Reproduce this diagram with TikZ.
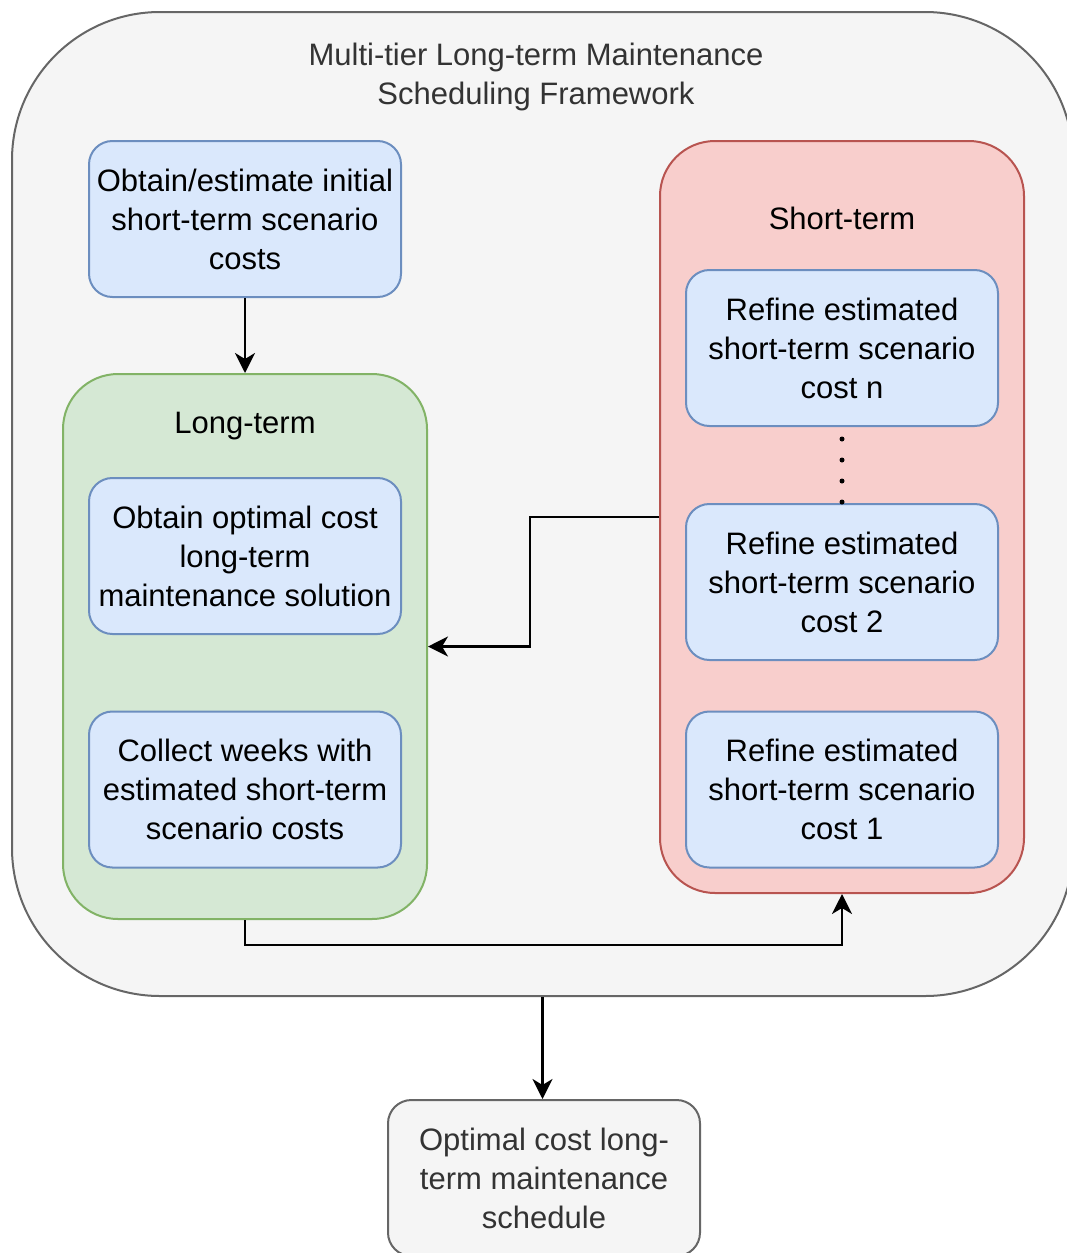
\documentclass[tikz,border=0pt]{standalone}
\usepackage{fontspec}
\setmainfont{Liberation Sans}
\usetikzlibrary{arrows.meta}
\definecolor{outerfill}{HTML}{F5F5F5}
\definecolor{outerdraw}{HTML}{666666}
\definecolor{bluefill}{HTML}{DAE8FC}
\definecolor{bluedraw}{HTML}{6C8EBF}
\definecolor{greenfill}{HTML}{D5E8D4}
\definecolor{greendraw}{HTML}{82B366}
\definecolor{redfill}{HTML}{F8CECC}
\definecolor{reddraw}{HTML}{B85450}
\definecolor{txtgray}{HTML}{333333}
\tikzset{
  txt/.style={font=\fontsize{15.5}{19.5}\selectfont, align=center, inner sep=0pt},
  bluebox/.style={txt, draw=bluedraw, fill=bluefill, line width=1pt, rounded corners=11.7pt,
    minimum width=156pt, minimum height=78pt, text=black},
  container/.style={line width=1pt, rounded corners=27.5pt, minimum width=182pt},
  flow/.style={line width=1.25pt, -{Stealth[length=10pt,width=10pt,inset=3pt]}},
}
\begin{document}
\begin{tikzpicture}[x=0.5pt,y=-0.5pt]
\useasboundingbox (0,0) rectangle (1066,1253);
% outer framework
\node[draw=outerdraw, fill=outerfill, line width=1pt, rounded corners=74pt,
  minimum width=530.5pt, minimum height=492pt] (outer) at (542.5,504) {};
\node[txt, text=txtgray] (title) at (536,77) {Multi-tier Long-term Maintenance\\Scheduling Framework};
% initial box
\node[bluebox] (init) at (245,219) {Obtain/estimate initial\\short-term scenario\\costs};
% long-term container
\node[container, draw=greendraw, fill=greenfill, minimum height=272.5pt] (lt) at (245,646.5) {};
\node[txt, text=black] (ltlabel) at (245,426) {Long-term};
\node[bluebox] (opt) at (245,556) {Obtain optimal cost\\long-term\\maintenance solution};
\node[bluebox] (coll) at (245,789.5) {Collect weeks with\\estimated short-term\\scenario costs};
% short-term container
\node[container, draw=reddraw, fill=redfill, minimum height=376pt] (st) at (842,517) {};
\node[txt, text=black] (stlabel) at (842,218) {Short-term};
\node[bluebox] (cn) at (842,348) {Refine estimated\\short-term scenario\\cost n};
\node[bluebox] (c2) at (842,582) {Refine estimated\\short-term scenario\\cost 2};
\node[bluebox] (c1) at (842,789.5) {Refine estimated\\short-term scenario\\cost 1};
\draw[line width=2.5pt, line cap=round, dash pattern=on 0pt off 10.5pt]
  ([yshift=-6pt]cn.south) -- ([yshift=-0.5pt]c2.north);
% result box
\node[txt, draw=outerdraw, fill=outerfill, line width=1pt, rounded corners=11.7pt,
  minimum width=156pt, minimum height=78pt, text=txtgray] (res) at (544,1178)
  {Optimal cost long-\\term maintenance\\schedule};
% connectors
\coordinate (j1) at (530,517);
\draw[flow] (init.south) -- (lt.north);
\draw[flow] (st.west) -- (j1) |- (lt.east);
\draw[flow] (lt.south) -- ++(0,25) -| (st.south);
\draw[flow] (outer.south) -- (outer.south |- res.north);
\end{tikzpicture}
\end{document}
